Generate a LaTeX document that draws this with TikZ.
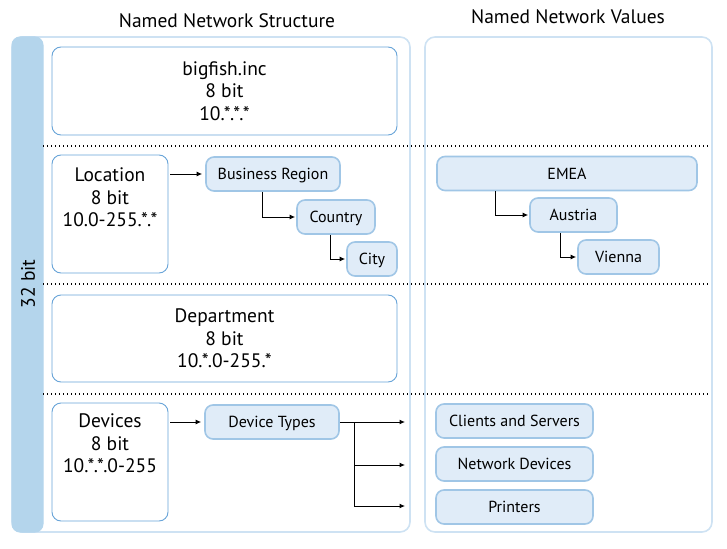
\documentclass[tikz,border=0pt]{standalone}
\usepackage{fontspec}
\setmainfont{PT Sans}
\usetikzlibrary{arrows.meta}
\definecolor{valfill}{RGB}{224,236,248}
\definecolor{valline}{RGB}{160,198,230}
\definecolor{boxline}{RGB}{104,164,216}
\definecolor{frameline}{RGB}{206,226,243}
\definecolor{barfill}{RGB}{180,213,236}
\begin{document}
\begin{tikzpicture}[x=1pt,y=-1pt,
>={Latex[length=5.5pt,width=5pt]},
frame/.style={draw=frameline, line width=1.6pt, rounded corners=10pt},
bar/.style={fill=barfill, draw=barfill, line width=1pt, rounded corners=8pt},
levelbox/.style={draw=boxline, line width=0.9pt, rounded corners=9pt, fill=white, align=center, font=\fontsize{19.5}{22.5}\selectfont},
valnode/.style={draw=valline, fill=valfill, line width=1.6pt, rounded corners=8pt, inner sep=0pt, minimum height=34pt, text height=12pt, text depth=1pt, font=\fontsize{16}{18}\selectfont},
title/.style={font=\fontsize{19.5}{22}\selectfont},
sepline/.style={line width=1.4pt, dash pattern=on 1.4pt off 2.6pt},
toplabel/.style={anchor=north, yshift=-10pt, align=center, font=\fontsize{19.5}{22.5}\selectfont},
]
\useasboundingbox (0,0) rectangle (727,548);

%Frames
\draw[frame] (12,37) rectangle (410,532);
\draw[frame] (425,37) rectangle (712,532);
\draw[bar] (12,37) rectangle (43,532);
\node[title]            (struct)   at (227,21) {Named Network Structure};
\node[title]            (values)   at (568,17) {Named Network Values};
\node[title, rotate=90] (bits)     at (28,284) {32 bit};

%Separators
\draw[sepline] (43,146) -- (710,146);
\draw[sepline] (43,284) -- (710,284);
\draw[sepline] (43,394) -- (710,394);

%Nodes
\node[levelbox, minimum width=345pt, minimum height=88pt] (inc)  at (224.5,91) {bigfish.inc\\8 bit\\10.*.*.*};
\node[levelbox, minimum width=116pt, minimum height=118pt,
      label={[toplabel]north:Location\\8 bit\\10.0-255.*.*}] (loc) at (110,214) {};
\node[levelbox, minimum width=345pt, minimum height=87pt] (dep)  at (224.5,338.5) {Department\\8 bit\\10.*.0-255.*};
\node[levelbox, minimum width=116pt, minimum height=118pt,
      label={[toplabel, yshift=2pt]north:Devices\\8 bit\\10.*.*.0-255}] (dev) at (110,462) {};

\node[valnode, minimum width=134pt] (region)  at (273,174)   {Business Region};
\node[valnode, minimum width=78pt]  (country) at (336,217)   {Country};
\node[valnode, minimum width=50pt]  (city)    at (372,259)   {City};
\node[valnode, minimum width=134pt] (types)   at (272,422)   {Device Types};

\node[valnode, minimum width=260pt] (emea)    at (567,173.5) {EMEA};
\node[valnode, minimum width=87pt]  (austria) at (573.5,215) {Austria};
\node[valnode, minimum width=81pt]  (vienna)  at (618.5,257) {Vienna};
\node[valnode, minimum width=157pt] (clients) at (514.5,421) {Clients and Servers};
\node[valnode, minimum width=157pt] (netdev)  at (514.5,464) {Network Devices};
\node[valnode, minimum width=157pt] (printer) at (514.5,507) {Printers};

\coordinate (split) at (354,422);
\coordinate (out1)  at (405,422);
\coordinate (out2)  at (405,465);
\coordinate (out3)  at (405,506);

%Lines
\draw[->, line width=1pt, shorten <=2pt, shorten >=3pt] (loc.east |- region.west) -- (region.west);
\draw[->, line width=1pt, shorten >=1pt] ([xshift=-11pt]region.south) |- (country.west);
\draw[->, line width=1pt, shorten >=1pt] ([xshift=-6pt]country.south) |- (city.west);
\draw[->, line width=1pt, shorten <=2pt, shorten >=3pt] (dev.east |- types.west) -- (types.west);
\draw[->, line width=1pt] (types.east) -- (out1);
\draw[->, line width=1pt] (split) |- (out2);
\draw[->, line width=1pt] (split) |- (out3);
\draw[->, line width=1pt, shorten >=1pt] ([xshift=-72pt]emea.south) |- (austria.west);
\draw[->, line width=1pt, shorten >=1pt] ([xshift=-13pt]austria.south) |- (vienna.west);
\end{tikzpicture}
\end{document}
